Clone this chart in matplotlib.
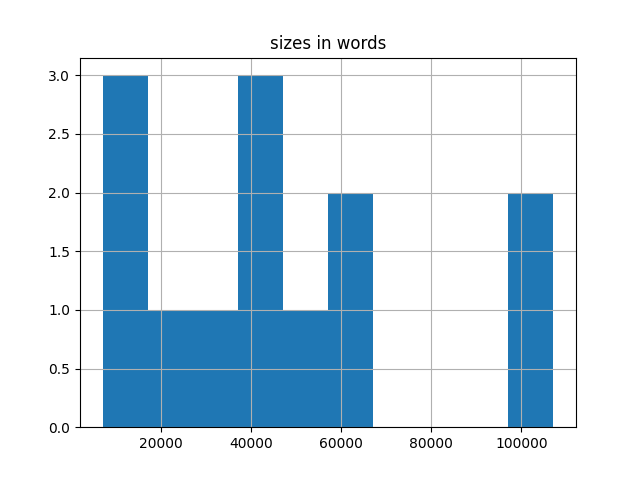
import matplotlib
matplotlib.use('Agg')
import matplotlib.pyplot as plt

# word counts per text (estimated from the histogram)
sizes = [7100, 12000, 15000, 22000, 33000, 38000, 41000, 45000,
         49000, 61000, 64000, 98000, 107100]

fig, ax = plt.subplots(figsize=(6.4, 4.8), dpi=100)
ax.hist(sizes, bins=10, color='#1f77b4')
ax.grid(True)
ax.set_title('sizes in words')

fig.savefig('out.png')
